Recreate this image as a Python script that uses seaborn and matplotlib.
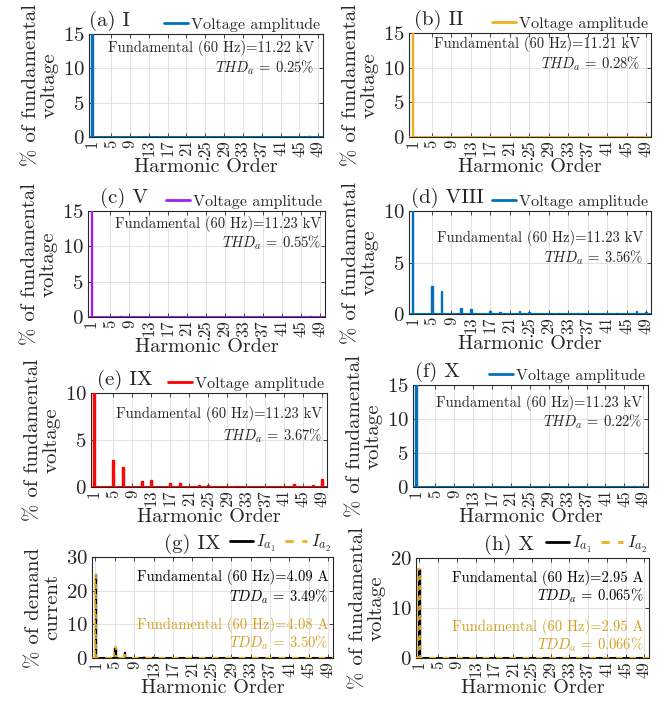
import pandas as pd
import matplotlib.pyplot as plt
import seaborn as sns
from matplotlib.lines import Line2D

sns.set_style("ticks")
plt.rcParams['font.family'] = ['cmr10', 'DejaVu Serif']
plt.rcParams['mathtext.fontset'] = 'cm'
plt.rcParams['axes.formatter.use_mathtext'] = True

# Harmonic spectra (% of fundamental / % of demand current), sparse: order -> value
harmonics = list(range(0, 51))
tick_orders = list(range(1, 50, 4))

a_orders = [1, 5, 7, 13, 25, 37, 47]
a_vals = [100, 0.06, 0.05, 0.08, 0.07, 0.08, 0.08]
b_orders = [1, 5, 7, 13, 47]
b_vals = [100, 0.06, 0.05, 0.06, 0.06]
c_orders = [1, 5, 7, 11, 13, 47]
c_vals = [100, 0.08, 0.08, 0.06, 0.06, 0.08]
d_orders = [1, 5, 7, 11, 13, 17, 19, 23, 25, 29, 31, 35, 37, 41, 43, 47, 49]
d_vals = [100, 2.7, 2.2, 0.55, 0.45, 0.3, 0.2, 0.25, 0.15, 0.06, 0.08, 0.05, 0.05, 0.06, 0.08, 0.3, 0.2]
e_orders = [1, 5, 7, 11, 13, 17, 19, 23, 25, 29, 31, 35, 37, 41, 43, 47, 49]
e_vals = [100, 2.9, 2.1, 0.6, 0.75, 0.4, 0.4, 0.2, 0.2, 0.1, 0.1, 0.05, 0.05, 0.1, 0.3, 0.2, 0.8]
f_orders = [1, 5, 7, 47, 49]
f_vals = [100, 0.05, 0.05, 0.08, 0.06]
g1_orders = [0, 1, 5, 7, 11, 13]
g1_vals = [1.0, 25.0, 3.1, 1.8, 0.2, 0.2]
g2_orders = [0, 1, 5, 7, 11, 13]
g2_vals = [1.1, 24.8, 3.2, 1.8, 0.2, 0.2]
h1_orders = [0, 1]
h1_vals = [0.3, 17.9]
h2_orders = [0, 1]
h2_vals = [0.35, 17.8]

blue = '#0072BD'
yellow = '#EDB120'
purple = '#A020F0'
red = '#FF0000'
gold_text = '#D4A020'


def spectrum(orders, vals):
    s = pd.Series(0.0, index=harmonics)
    s[orders] = vals
    return pd.DataFrame({'h': harmonics, 'v': s.values})


def px(l, r, t, b):
    return [l / 665, (704 - b) / 704, (r - l) / 665, (b - t) / 704]


fig = plt.figure(figsize=(6.65, 7.04), dpi=100)


def style_axes(ax, ymax, yticks, ylabel):
    ax.set_xlim(0.3, 50)
    ax.set_ylim(0, ymax)
    ax.set_xticks(tick_orders)
    ax.set_xticklabels([str(t) for t in tick_orders], rotation=90, fontsize=12)
    ax.set_yticks(yticks)
    ax.tick_params(axis='y', labelsize=15, pad=3)
    ax.tick_params(direction='in', top=True, right=True, length=3, width=0.6, color='#262626')
    ax.tick_params(axis='x', pad=2)
    ax.grid(True, color='#DDDDDD', linewidth=0.6)
    ax.set_axisbelow(True)
    for sp in ax.spines.values():
        sp.set_color('#262626')
        sp.set_linewidth(0.8)
    ax.set_xlabel('Harmonic Order', fontsize=14.5, labelpad=1)
    ax.set_ylabel(ylabel, fontsize=15, labelpad=3, linespacing=1.0)


def bars(ax, df, color):
    sns.barplot(data=df, x='h', y='v', native_scale=True, width=0.35, color=color,
                edgecolor=color, linewidth=1.0, errorbar=None, ax=ax, zorder=3)


voltage_panels = [
    ('(a) I', px(89, 323, 34, 137), a_orders, a_vals, blue, 15, [0, 5, 10, 15], 0.0,
     'Fundamental (60 Hz)=11.22 kV', r'$THD_a$ = 0.25%', 0.965, 0.86, 0.67),
    ('(b) II', px(409, 651, 33, 137), b_orders, b_vals, yellow, 15, [0, 5, 10, 15], 0.02,
     'Fundamental (60 Hz)=11.21 kV', r'$THD_a$ = 0.28%', 0.955, 0.89, 0.70),
    ('(c) V', px(88, 325, 211, 317), c_orders, c_vals, purple, 15, [0, 5, 10, 15], 0.05,
     'Fundamental (60 Hz)=11.23 kV', r'$THD_a$ = 0.55%', 0.985, 0.88, 0.70),
    ('(d) VIII', px(409, 651, 211, 314), d_orders, d_vals, blue, 10, [0, 5, 10], 0.01,
     'Fundamental (60 Hz)=11.23 kV', r'$THD_a$ = 3.56%', 0.97, 0.74, 0.55),
    ('(e) IX', px(91, 327, 393, 487), e_orders, e_vals, red, 10, [0, 5, 10], 0.025,
     'Fundamental (60 Hz)=11.23 kV', r'$THD_a$ = 3.67%', 0.98, 0.78, 0.55),
    ('(f) X', px(413, 648, 385, 487), f_orders, f_vals, blue, 15, [0, 5, 10, 15], 0.01,
     'Fundamental (60 Hz)=11.23 kV', r'$THD_a$ = 0.22%', 0.975, 0.82, 0.64),
]

for title, pos, orders, vals, color, ymax, yticks, tx, fund, thd, rx, y1, y2 in voltage_panels:
    ax = fig.add_axes(pos)
    bars(ax, spectrum(orders, vals), color)
    ax.axhline(0, color=color, linewidth=2.2, zorder=4)
    style_axes(ax, ymax, yticks, '% of fundamental\nvoltage')
    ax.text(tx, 1.03, title, transform=ax.transAxes, ha='left', va='bottom', fontsize=15)
    ax.legend(handles=[Line2D([], [], color=color, linewidth=2)], labels=['Voltage amplitude'],
              loc='lower right', bbox_to_anchor=(1.0, 1.0), frameon=False, fontsize=11.5,
              handlelength=1.5, handletextpad=0.2, borderaxespad=0.05, borderpad=0.1)
    ax.text(rx, y1, fund, transform=ax.transAxes, ha='right', va='center', fontsize=10.5, zorder=6)
    ax.text(rx, y2, thd, transform=ax.transAxes, ha='right', va='center', fontsize=10.5, zorder=6)

current_panels = [
    ('(g) IX', px(92, 333, 557, 658), g1_orders, g1_vals, g2_orders, g2_vals, 30, [0, 10, 20, 30],
     0.30, '% of demand\ncurrent',
     ['Fundamental (60 Hz)=4.09 A', r'$TDD_a$ = 3.49%', 'Fundamental (60 Hz)=4.08 A', r'$TDD_a$ = 3.50%'],
     0.98, [0.80, 0.61, 0.33, 0.15]),
    ('(h) X', px(416, 649, 558, 658), h1_orders, h1_vals, h2_orders, h2_vals, 20, [0, 10, 20],
     0.29, '% of fundamental\nvoltage',
     ['Fundamental (60 Hz)=2.95 A', r'$TDD_a$ = 0.065%', 'Fundamental (60 Hz)=2.95 A', r'$TDD_a$ = 0.066%'],
     0.975, [0.80, 0.62, 0.31, 0.13]),
]

for title, pos, o1, v1, o2, v2, ymax, yticks, tx, ylabel, notes, rx, ys in current_panels:
    ax = fig.add_axes(pos)
    bars(ax, spectrum(o1, v1), 'black')
    sns.barplot(data=spectrum(o2, v2), x='h', y='v', native_scale=True, width=0.35,
                facecolor='none', edgecolor=yellow, linewidth=1.2, linestyle=(0, (3, 3)),
                errorbar=None, ax=ax, zorder=4)
    ax.axhline(0, color='black', linewidth=2.2, zorder=4)
    ax.axhline(0, color=yellow, linewidth=1.6, linestyle=(0, (3, 3)), zorder=5)
    style_axes(ax, ymax, yticks, ylabel)
    ax.text(tx, 1.03, title, transform=ax.transAxes, ha='left', va='bottom', fontsize=15)
    handles = [Line2D([], [], color='black', linewidth=2),
               Line2D([], [], color=yellow, linewidth=2, linestyle=(0, (3, 3)))]
    ax.legend(handles=handles, labels=[r'$I_{a_1}$', r'$I_{a_2}$'], ncol=2,
              loc='lower right', bbox_to_anchor=(1.0, 1.0), frameon=False, fontsize=12.5,
              handlelength=1.3, handletextpad=0.2, columnspacing=0.5,
              borderaxespad=0.05, borderpad=0.1)
    colors = ['black', 'black', gold_text, gold_text]
    for note, y, c in zip(notes, ys, colors):
        ax.text(rx, y, note, transform=ax.transAxes, ha='right', va='center',
                fontsize=10.5, color=c, zorder=6)

plt.savefig('out.png', dpi=100)
